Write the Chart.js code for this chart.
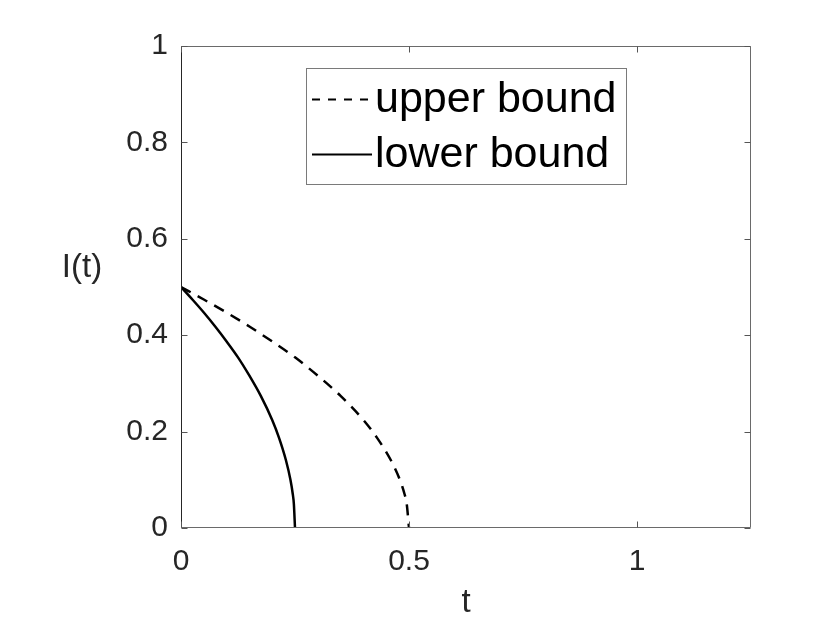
<!DOCTYPE html>
<html><head><meta charset="utf-8">
<script src="https://cdn.jsdelivr.net/npm/chart.js@4"></script>
<style>html,body{margin:0;padding:0;background:#fff;}canvas{display:block;}</style>
</head><body>
<canvas id="c" width="830" height="623"></canvas>
<script>
// ---- data ----
const seriesNames = ['upper bound', 'lower bound'];
const tUpper = [0, 0.05, 0.1, 0.15, 0.2, 0.25, 0.3, 0.35, 0.4, 0.43, 0.46, 0.48, 0.49, 0.495, 0.5];
const iUpper = [0.5, 0.474, 0.447, 0.418, 0.387, 0.354, 0.316, 0.274, 0.224, 0.187, 0.141, 0.100, 0.071, 0.050, 0];
const tLower = [0, 0.025, 0.05, 0.075, 0.1, 0.125, 0.15, 0.175, 0.2, 0.215, 0.23, 0.24, 0.245, 0.2475, 0.25];
const iLower = [0.5, 0.474, 0.447, 0.418, 0.387, 0.354, 0.316, 0.274, 0.224, 0.187, 0.141, 0.100, 0.071, 0.050, 0];
const xLabel = 't';
const yLabel = 'I(t)';

const FONT = '"Liberation Sans", Arial, Helvetica, sans-serif';
const INK = '#262626';
const fmt = v => String(+Number(v).toFixed(2));

const boxTicks = {
  id: 'boxTicks',
  afterDatasetsDraw(chart) {
    const ctx = chart.ctx, ca = chart.chartArea;
    const L = Math.round(ca.left) + 0.5, R = Math.round(ca.right) - 0.5;
    const T = Math.round(ca.top) + 0.5, B = Math.round(ca.bottom) - 0.5;
    ctx.save();
    ctx.lineWidth = 1; ctx.setLineDash([]);
    ctx.strokeStyle = '#6a6a6a';
    ctx.beginPath();
    ctx.moveTo(L, T); ctx.lineTo(R, T); ctx.lineTo(R, B); ctx.lineTo(L, B);
    ctx.stroke();
    ctx.strokeStyle = INK;
    ctx.beginPath(); ctx.moveTo(L, T); ctx.lineTo(L, B); ctx.stroke();
    const tl = 6;
    ctx.strokeStyle = '#555';
    ctx.beginPath();
    chart.scales.x.ticks.forEach(t => {
      const px = Math.round(chart.scales.x.getPixelForValue(t.value)) + 0.5;
      ctx.moveTo(px, B); ctx.lineTo(px, B - tl);
      ctx.moveTo(px, T); ctx.lineTo(px, T + tl);
    });
    chart.scales.y.ticks.forEach(t => {
      const py = Math.round(chart.scales.y.getPixelForValue(t.value)) + 0.5;
      ctx.moveTo(L, py); ctx.lineTo(L + tl, py);
      ctx.moveTo(R, py); ctx.lineTo(R - tl, py);
    });
    ctx.stroke();
    // horizontal y-axis label
    ctx.fillStyle = INK;
    ctx.font = '33px ' + FONT;
    ctx.textAlign = 'center'; ctx.textBaseline = 'middle';
    ctx.fillText(yLabel, ca.left - 99, ca.top + 222);
    ctx.restore();
  }
};

const legendBox = {
  id: 'legendBox',
  afterDraw(chart) {
    const ctx = chart.ctx, ca = chart.chartArea;
    const x0 = ca.left + 125, y0 = ca.top + 22, w = 321, h = 117;
    ctx.save();
    ctx.fillStyle = '#fff';
    ctx.fillRect(x0, y0, w, h);
    ctx.strokeStyle = '#7a7a7a'; ctx.lineWidth = 1; ctx.setLineDash([]);
    ctx.strokeRect(x0 + 0.5, y0 + 0.5, w - 1, h - 1);
    const lineRows = [y0 + 31.5, y0 + 86.5];
    const textRows = [y0 + 32.5, y0 + 87.5];
    const legendDash = [[8, 8], []];
    chart.data.datasets.forEach((ds, i) => {
      const y = lineRows[i];
      ctx.strokeStyle = ds.borderColor; ctx.lineWidth = 2;
      ctx.setLineDash(legendDash[i]);
      ctx.beginPath(); ctx.moveTo(x0 + 6, y); ctx.lineTo(x0 + 66, y); ctx.stroke();
      ctx.setLineDash([]);
      ctx.fillStyle = '#000';
      ctx.font = '43px ' + FONT;
      ctx.textAlign = 'left'; ctx.textBaseline = 'middle';
      ctx.fillText(ds.label, x0 + 69, textRows[i]);
    });
    ctx.restore();
  }
};

new Chart(document.getElementById('c'), {
  type: 'scatter',
  data: {
    datasets: [
      { label: seriesNames[0], data: tUpper.map((t, i) => ({ x: t, y: iUpper[i] })),
        showLine: true, borderColor: '#000', borderWidth: 2.5, borderDash: [11, 8],
        pointRadius: 0, fill: false, cubicInterpolationMode: 'monotone' },
      { label: seriesNames[1], data: tLower.map((t, i) => ({ x: t, y: iLower[i] })),
        showLine: true, borderColor: '#000', borderWidth: 2.5,
        pointRadius: 0, fill: false, cubicInterpolationMode: 'monotone' }
    ]
  },
  options: {
    responsive: false, animation: false, devicePixelRatio: 1,
    layout: { padding: { top: 46, right: 79, left: 0, bottom: 0 } },
    plugins: { legend: { display: false }, tooltip: { enabled: false } },
    scales: {
      x: {
        type: 'linear', min: 0, max: 1.25,
        afterFit(s) { s.height = 95; },
        ticks: { stepSize: 0.5, includeBounds: false, color: INK, maxRotation: 0,
                 font: { family: FONT, size: 30 }, padding: 16, callback: fmt },
        grid: { display: false, drawTicks: false },
        border: { display: false },
        title: { display: true, text: xLabel, color: INK,
                 font: { family: FONT, size: 33, lineHeight: 1 }, padding: { top: 0, bottom: 4 } }
      },
      y: {
        type: 'linear', min: 0, max: 1,
        afterFit(s) { s.width = 181; },
        ticks: { stepSize: 0.2, color: INK, font: { family: FONT, size: 30 }, padding: 13, callback: fmt },
        grid: { display: false, drawTicks: false },
        border: { display: false }
      }
    }
  },
  plugins: [boxTicks, legendBox]
});
</script>
</body></html>
